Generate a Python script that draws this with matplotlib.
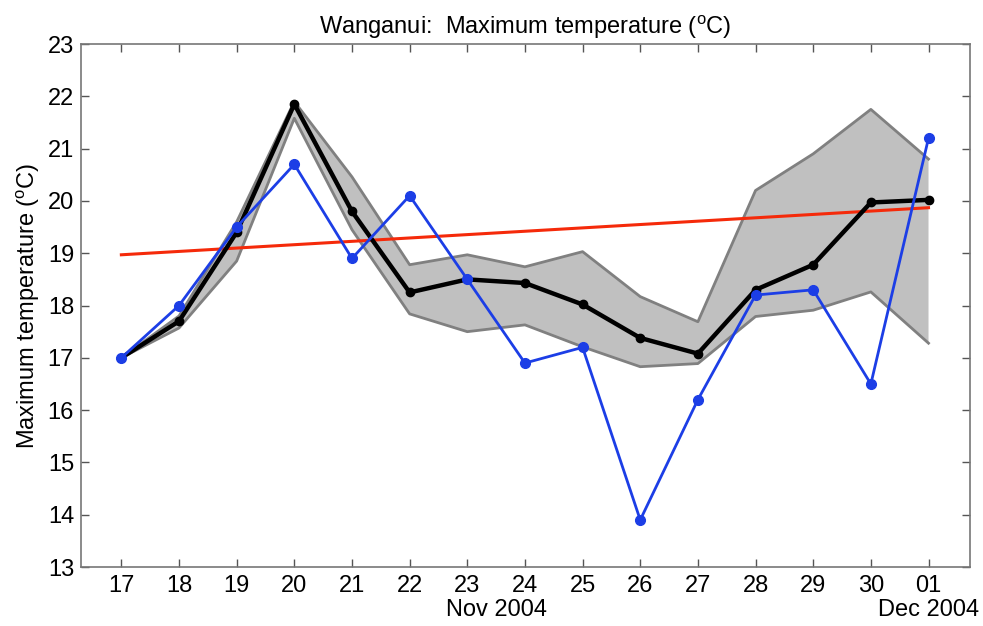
import matplotlib.pyplot as plt
import numpy as np

plt.rcParams['font.family'] = ['Liberation Sans', 'DejaVu Sans']

days = ["17", "18", "19", "20", "21", "22", "23", "24", "25", "26", "27", "28", "29", "30", "01"]
ens_mean = [17.0, 17.7, 19.4, 21.85, 19.8, 18.25, 18.5, 18.43, 18.02, 17.38, 17.08, 18.3, 18.78, 19.97, 20.02]
observed = [17.0, 18.0, 19.5, 20.7, 18.9, 20.1, 18.5, 16.9, 17.2, 13.9, 16.2, 18.2, 18.3, 16.5, 21.2]
band_hi = [17.0, 17.8, 19.6, 21.9, 20.46, 18.78, 18.97, 18.74, 19.03, 18.17, 17.69, 20.2, 20.9, 21.75, 20.8]
band_lo = [17.0, 17.57, 18.85, 21.58, 19.45, 17.84, 17.5, 17.63, 17.21, 16.83, 16.89, 17.79, 17.91, 18.26, 17.28]
trend = [18.97, 19.87]

x = np.arange(len(days))

fig = plt.figure(figsize=(9.83, 6.26), dpi=100)
ax = fig.add_axes([0.0824, 0.0942, 0.9044, 0.8355])

ax.fill_between(x, band_lo, band_hi, facecolor='#c0c0c0', edgecolor='none', zorder=1)
ax.plot(x, band_hi, color='#808080', lw=2, zorder=2)
ax.plot(x, band_lo, color='#808080', lw=2, zorder=2)
ax.plot([x[0], x[-1]], trend, color='#f52a0a', lw=2.2, zorder=3)
ax.plot(x, ens_mean, color='black', lw=3.2, marker='o', ms=6, zorder=4)
ax.plot(x, observed, color='#1c3ee6', lw=2, marker='o', ms=7, zorder=5)

ax.set_xlim(-0.7, 14.72)
ax.set_ylim(13, 23)
ax.set_xticks(x)
ax.set_xticklabels(days)
ax.set_yticks(range(13, 24))
ax.tick_params(direction='in', top=True, right=True, length=6, width=1, color='#555555',
               labelsize=17)
ax.tick_params(axis='x', pad=6)
ax.tick_params(axis='y', pad=5)
for s in ax.spines.values():
    s.set_color('#777777')
    s.set_linewidth(1.2)

ax.set_title("Wanganui:  Maximum temperature ($\\mathregular{^{o}}$C)", fontsize=17, pad=7)
ax.set_ylabel("Maximum temperature ($\\mathregular{^{o}}$C)", fontsize=17, labelpad=4)
ax.text(6.5, -0.062, "Nov 2004", transform=ax.get_xaxis_transform(), ha='center', va='top', fontsize=17)
ax.text(14, -0.062, "Dec 2004", transform=ax.get_xaxis_transform(), ha='center', va='top', fontsize=17)

fig.savefig("out.png", dpi=100)
